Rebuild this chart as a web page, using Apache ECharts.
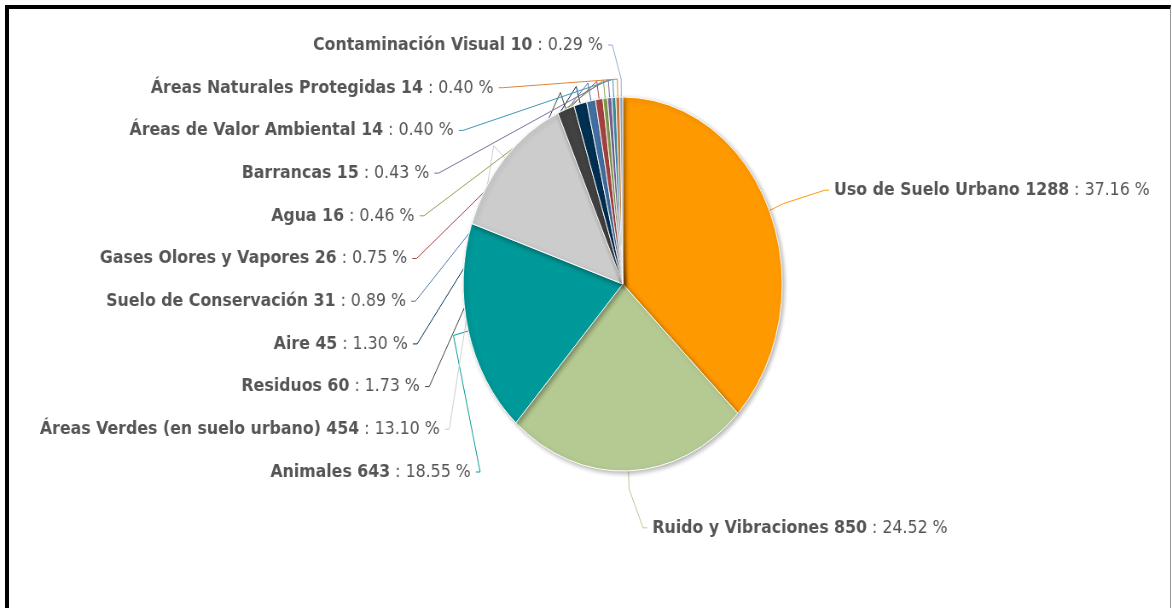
<!DOCTYPE html>
<html>
<head>
<meta charset="utf-8">
<script src="https://cdn.jsdelivr.net/npm/echarts@6/dist/echarts.min.js"></script>
<style>
  html, body { margin: 0; padding: 0; background: #fff; }
  .frame {
    position: absolute; left: 5px; top: 5px; width: 1161px; height: 610px;
    border-top: 4px solid #000; border-left: 4px solid #000; border-right: 1px solid #999;
  }
  .chart {
    position: absolute; left: 0; top: 0; width: 1374px; height: 608px;
    transform: scaleX(0.853); transform-origin: 0 0;
  }
</style>
</head>
<body>
<div class="frame"></div>
<div class="chart" id="chart"></div>
<script>
const categories = [
  'Uso de Suelo Urbano', 'Ruido y Vibraciones', 'Animales', 'Áreas Verdes (en suelo urbano)',
  'Residuos', 'Aire', 'Suelo de Conservación', 'Gases Olores y Vapores', 'Agua',
  'Barrancas', 'Áreas de Valor Ambiental', 'Áreas Naturales Protegidas', 'Contaminación Visual'
]
const values = [1288, 850, 643, 454, 60, 45, 31, 26, 16, 15, 14, 14, 10]
const colors = [
  '#ff9900', '#b5ca92', '#009999', '#cccccc', '#424242', '#003153', '#4572a7',
  '#aa4643', '#89a54e', '#80699b', '#3d96ae', '#db843d', '#92a8cd'
]

const total = values.reduce((s, v) => s + v, 0)

// pie geometry (chart is drawn wider and squeezed by the css scaleX)
const cx = 730
const cy = 284
const radius = 187
const textRadius = 259 // left labels end on this circle
const bendLen = 18
const gap = 6

// label line tweak for the two labels on the right
const lineOverrides = {
  0: { length: 52, length2: 22 },
  1: { length: 57, length2: 20 }
}

// connector like: slice edge -> short radial step -> label end
const layoutLabel = params => {
  const pts = params.labelLinePoints
  if (!pts) return {}
  const rect = params.labelRect
  const midY = rect.y + rect.height / 2
  const edge = pts[0]
  const ux = (edge[0] - cx) / radius
  const uy = (edge[1] - cy) / radius
  const bend = [edge[0] + ux * bendLen, edge[1] + uy * bendLen]
  if (params.align === 'right') {
    const dy = midY - cy
    const circleEnd = cx - Math.sqrt(Math.max(0, textRadius * textRadius - dy * dy))
    const textEnd = Math.max(rect.x + rect.width, circleEnd)
    return {
      x: textEnd,
      y: midY,
      labelLinePoints: [edge, bend, [textEnd + gap + 5, midY], [textEnd + gap, midY]]
    }
  }
  return {
    labelLinePoints: [edge, bend, [rect.x - gap - 5, midY], [rect.x - gap, midY]]
  }
}

const instance = echarts.init(document.getElementById('chart'))
const option = {
  animation: false,
  series: [
    {
      type: 'pie',
      center: [cx, cy],
      radius: radius,
      startAngle: 90,
      clockwise: true,
      avoidLabelOverlap: true,
      itemStyle: {
        borderColor: '#fff',
        borderWidth: 1,
        shadowBlur: 5,
        shadowOffsetX: 2,
        shadowOffsetY: 2,
        shadowColor: 'rgba(0,0,0,0.3)'
      },
      label: {
        position: 'outside',
        formatter: p => `{b|${p.name} ${p.value}}{n| : ${(p.value / total * 100).toFixed(2)} %}`,
        distanceToLabelLine: gap,
        minMargin: 23.7,
        overflow: 'none',
        rich: {
          b: { fontFamily: 'DejaVu Sans', fontSize: 18.5, fontWeight: 'bold', color: '#555' },
          n: { fontFamily: 'DejaVu Sans', fontSize: 18.5, color: '#555' }
        }
      },
      labelLine: {
        length: 52,
        length2: 15,
        lineStyle: { width: 1 }
      },
      labelLayout: layoutLabel,
      data: categories.map((name, i) => ({
        name,
        value: values[i],
        itemStyle: { color: colors[i] },
        labelLine: lineOverrides[i]
      }))
    }
  ]
}
instance.setOption(option)
</script>
</body>
</html>
